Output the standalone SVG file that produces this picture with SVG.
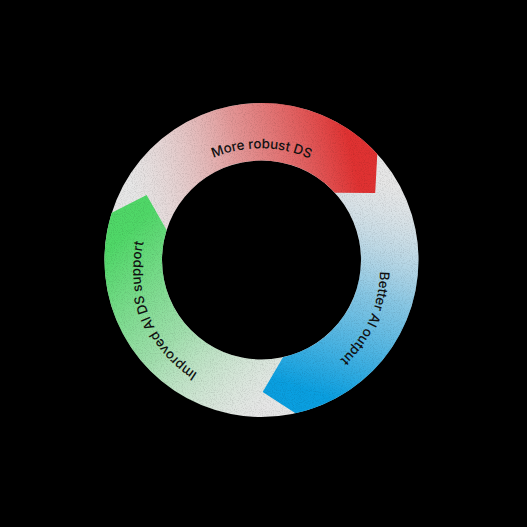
<svg xmlns="http://www.w3.org/2000/svg" xmlns:xlink="http://www.w3.org/1999/xlink" width="527" height="527" viewBox="0 0 527 527">
  <style>
    .lbl { font-family: Inter, "Liberation Sans", sans-serif; font-size: 13.3px; font-weight: 500; fill: #111111; }
  </style>
  <defs>
    <linearGradient id="gRed" gradientUnits="userSpaceOnUse" x1="139.4" y1="221.5" x2="355.9" y2="173.5">
      <stop offset="0" stop-color="#e2a0a0" stop-opacity="0"/>
      <stop offset="0.5" stop-color="#e04848" stop-opacity="0.5"/>
      <stop offset="1" stop-color="#e03232" stop-opacity="1"/>
    </linearGradient>
    <linearGradient id="gBlue" gradientUnits="userSpaceOnUse" x1="139.4" y1="221.5" x2="355.9" y2="173.5">
      <stop offset="0" stop-color="#9fd0ea" stop-opacity="0"/>
      <stop offset="0.5" stop-color="#2aa8e2" stop-opacity="0.5"/>
      <stop offset="1" stop-color="#0a9fe0" stop-opacity="1"/>
    </linearGradient>
    <linearGradient id="gGreen" gradientUnits="userSpaceOnUse" x1="139.4" y1="221.5" x2="355.9" y2="173.5">
      <stop offset="0" stop-color="#a8e8b4" stop-opacity="0"/>
      <stop offset="0.5" stop-color="#5cd874" stop-opacity="0.5"/>
      <stop offset="1" stop-color="#50d868" stop-opacity="1"/>
    </linearGradient>
    <filter id="grain" filterUnits="userSpaceOnUse" x="0" y="0" width="527" height="527">
      <feTurbulence type="fractalNoise" baseFrequency="0.9" numOctaves="2" seed="4" stitchTiles="stitch" result="n"/>
      <feColorMatrix in="n" type="matrix" values="0 0 0 0 0  0 0 0 0 0  0 0 0 0 0  2 0 0 0 -0.9" result="a"/>
      <feComposite in="a" in2="SourceGraphic" operator="in"/>
    </filter>
    <path id="arrow" d="M 111.8 212.8 A 157 157 0 0 1 377.3 153.9 L 375.2 193.0 L 334.9 192.8 A 99.5 99.5 0 0 0 166.6 230.1 L 146.6 195.0 Z"/>
    <path id="tpRed" d="M 138.0 269.7 A 122.5 122.5 0 0 1 383.0 271.9"/>
    <path id="tpBlue" d="M 310.9 159.2 A 122.5 122.5 0 0 1 210.1 382.4"/>
    <path id="tpGreen" d="M 307.0 384.1 A 122.5 122.5 0 0 1 214.0 157.5"/>
  </defs>
  <rect width="527" height="527" fill="#000"/>
  <g id="ring">
    <path fill="#e6e6e6" fill-rule="evenodd" d="M 104.5 260 a 157 157 0 1 0 314 0 a 157 157 0 1 0 -314 0 Z M 162 260 a 99.5 99.5 0 1 0 199 0 a 99.5 99.5 0 1 0 -199 0 Z"/>
  </g>
  <g id="connectors">
    <use id="arrow-red" href="#arrow" xlink:href="#arrow" fill="url(#gRed)"/>
    <use id="arrow-blue" href="#arrow" xlink:href="#arrow" fill="url(#gBlue)" transform="rotate(120 261.5 260)"/>
    <use id="arrow-green" href="#arrow" xlink:href="#arrow" fill="url(#gGreen)" transform="rotate(240 261.5 260)"/>
  </g>
  <g id="grain-layer" opacity="0.14">
    <path fill="#000" fill-rule="evenodd" filter="url(#grain)" d="M 104.5 260 a 157 157 0 1 0 314 0 a 157 157 0 1 0 -314 0 Z M 162 260 a 99.5 99.5 0 1 0 199 0 a 99.5 99.5 0 1 0 -199 0 Z"/>
  </g>
  <g id="node-more-robust-ds">
    <text class="lbl"><textPath href="#tpRed" xlink:href="#tpRed" startOffset="50%" text-anchor="middle">More robust DS</textPath></text>
  </g>
  <g id="node-better-ai-output">
    <text class="lbl"><textPath href="#tpBlue" xlink:href="#tpBlue" startOffset="50%" text-anchor="middle">Better AI output</textPath></text>
  </g>
  <g id="node-improved-ai-ds-support">
    <text class="lbl"><textPath href="#tpGreen" xlink:href="#tpGreen" startOffset="50%" text-anchor="middle">Improved AI DS support</textPath></text>
  </g>
</svg>
